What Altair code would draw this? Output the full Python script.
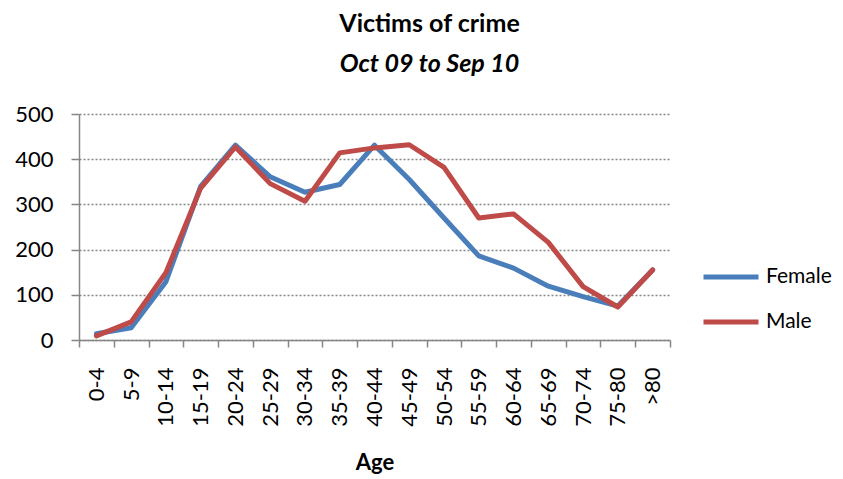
import altair as alt
import pandas as pd

ages = ["0-4", "5-9", "10-14", "15-19", "20-24", "25-29", "30-34", "35-39",
        "40-44", "45-49", "50-54", "55-59", "60-64", "65-69", "70-74", "75-80", ">80"]
female = [14, 27, 129, 340, 431, 361, 327, 344, 431, 355, 270, 186, 159, 119, 96, 75, 155]
male = [9, 40, 149, 336, 427, 346, 307, 414, 425, 432, 382, 270, 279, 216, 118, 73, 155]
series = ["Female", "Male"]
colors = ["#4A7EBB", "#BE4B48"]

rows = []
for s, vals in zip(series, [female, male]):
    for a, v in zip(ages, vals):
        rows.append({"Age": a, "Victims": v, "Sex": s})
df = pd.DataFrame(rows)

FONT = "Lato"

chart = alt.Chart(df).mark_line(strokeWidth=5, strokeJoin="round", strokeCap="round").encode(
    x=alt.X("Age:N", sort=ages, bandPosition=0.5,
            scale=alt.Scale(type="band", paddingInner=0, paddingOuter=0),
            axis=alt.Axis(title="Age", labelAngle=-90, tickBand="extent", tickSize=7,
                          labelPadding=20, labelFontSize=22, labelFont=FONT, labelColor="#000000",
                          titleFont=FONT, titleFontSize=22, titleFontWeight="bold",
                          titleColor="#000000", titlePadding=26,
                          domainColor="#868686", domainWidth=1.5, tickColor="#868686",
                          tickWidth=1.5, grid=False)),
    y=alt.Y("Victims:Q", title=None,
            scale=alt.Scale(domain=[0, 500], nice=False),
            axis=alt.Axis(values=[0, 100, 200, 300, 400, 500], tickSize=8, labelPadding=18,
                          labelFontSize=22, labelFont=FONT, labelColor="#000000",
                          domainColor="#868686", domainWidth=1.5, tickColor="#868686",
                          tickWidth=1.5, grid=True, gridColor="#868686", gridDash=[2, 2],
                          gridWidth=1.3)),
    color=alt.Color("Sex:N", scale=alt.Scale(domain=series, range=colors),
                    legend=alt.Legend(title=None, orient="none", legendX=622, legendY=133,
                                      symbolType="stroke", symbolSize=3025, symbolStrokeWidth=5,
                                      rowPadding=5, labelOffset=5, labelFontSize=21,
                                      labelFont=FONT, labelColor="#000000")),
).properties(
    width=591,
    height=226,
    padding={"left": 71, "top": 106, "right": 164, "bottom": 134},
    autosize=alt.AutoSizeParams(type="none"),
    title=alt.TitleParams(text="Victims of crime", subtitle="Oct 09 to Sep 10",
                          font=FONT, fontSize=25, fontWeight="bold", color="#000000",
                          subtitleFont=FONT, subtitleFontSize=25, subtitleFontWeight="bold",
                          subtitleFontStyle="italic", subtitleColor="#000000",
                          subtitlePadding=15, anchor="middle", dx=55, offset=26),
).configure_view(strokeWidth=0)

chart.save("out.html", embed_options={"renderer": "svg", "actions": False})
